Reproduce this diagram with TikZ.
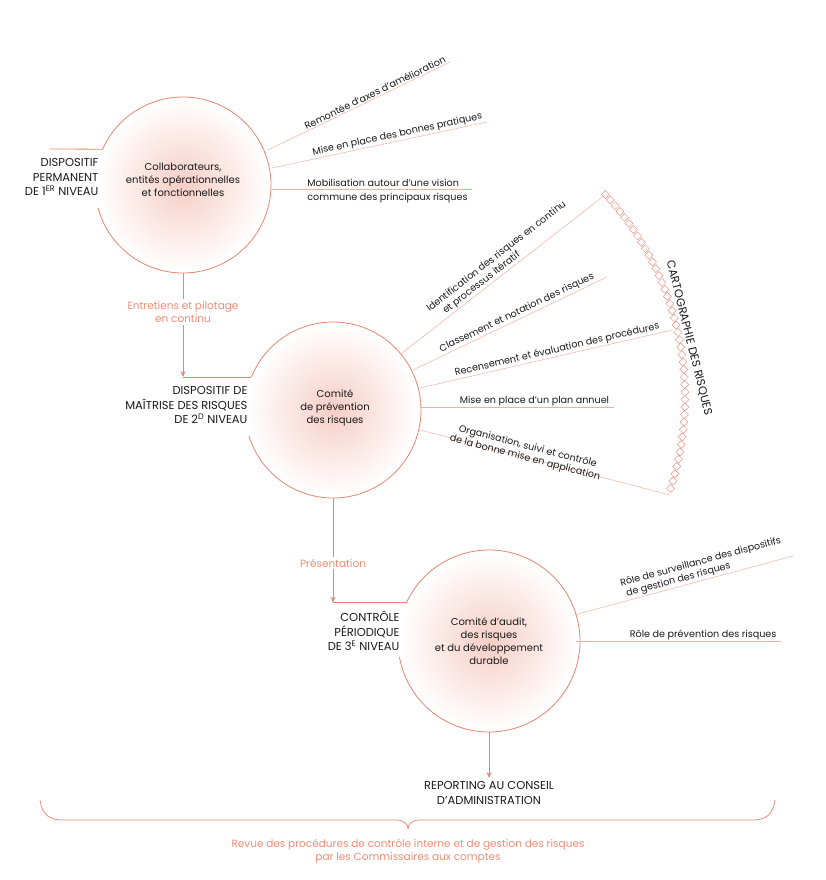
\documentclass[tikz,border=0pt]{standalone}
\usepackage{fontspec}
\setmainfont{Poppins}
\usetikzlibrary{arrows.meta,calc}
\definecolor{sal}{HTML}{E8836F}
\definecolor{sallab}{HTML}{EE8C76}
\definecolor{sallt}{HTML}{F2B0A2}
\definecolor{txt}{HTML}{1A1A1A}
\begin{document}
\begin{tikzpicture}[x=1pt,y=-1pt,
  ring/.style={draw=sal,line width=0.8pt},
  conn/.style={draw=sal,line width=0.8pt},
  arr/.style={conn,-{Stealth[length=6pt,width=5pt]}},
  spoke/.style={draw=sallt,line width=0.5pt},
  stxt/.style={font=\fontsize{9.6}{11.5}\selectfont,text=txt,inner sep=1.2pt},
  ctxt/.style={font=\fontsize{10}{13}\selectfont,text=txt,align=center},
  lvl/.style={font=\fontsize{11.5}{14.5}\selectfont,text=txt,align=right},
  lab/.style={font=\fontsize{10.5}{13}\selectfont,text=sallab,align=center,fill=white,inner sep=2pt},
  dia/.style={draw=sal!85,line width=0.5pt}]
\useasboundingbox (0,0) rectangle (826,880);
% centres
\coordinate (c1) at (183,185);
\coordinate (c2) at (333,410);
\coordinate (c3) at (489,641);
\coordinate (carto) at (388,397);
% shading
\shade[inner color=sal!40,outer color=white] (c1) circle[radius=86];
\shade[inner color=sal!40,outer color=white] (c2) circle[radius=86];
\shade[inner color=sal!40,outer color=white] (c3) circle[radius=89];
% circle 1
\draw[ring] (c1) ++(-156:88) coordinate (c1s) arc[start angle=-156,end angle=165,radius=88];
\coordinate (c1b) at ($(c1)+(0,88)$);
\coordinate (l1) at (50,149);
\draw[conn] (l1) -- (c1s);
% circle 2
\draw[ring] (c2) ++(-158:88) coordinate (c2s) arc[start angle=-158,end angle=163,radius=88];
\coordinate (c2b) at ($(c2)+(0,88)$);
% circle 3
\draw[ring] (c3) ++(-155:91) coordinate (c3s) arc[start angle=-155,end angle=170,radius=91];
\coordinate (c3b) at ($(c3)+(0,91)$);
% arrows between levels
\coordinate (a1) at (c1b |- c2s);
\draw[arr] (c1b) -- (a1);
\draw[conn] (a1) -- (c2s);
\node[lab] (e1) at (183,312) {Entretiens et pilotage\\en continu};
\coordinate (a2) at (c2b |- c3s);
\draw[arr] (c2b) -- (a2);
\draw[conn] (a2) -- (c3s);
\node[lab] (e2) at (333,563) {Présentation};
\coordinate (a3) at (489,778);
\draw[arr] (c3b) -- (a3);
% centre texts
\node[ctxt] (t1) at (183,180) {Collaborateurs,\\entités opérationnelles\\et fonctionnelles};
\node[ctxt] (t2) at (335,408) {Comité\\de prévention\\des risques};
\node[ctxt] (t3) at (489,641) {Comité d’audit,\\des risques\\et du développement\\durable};
% level labels
\node[lvl,anchor=east] (n1) at (102,177) {DISPOSITIF\\PERMANENT\\DE 1\textsuperscript{ER} NIVEAU};
\node[lvl,anchor=east] (n2) at (251,405) {DISPOSITIF DE\\MAÎTRISE DES RISQUES\\DE 2\textsuperscript{D} NIVEAU};
\node[lvl,anchor=east] (n3) at (403,631) {CONTRÔLE\\PÉRIODIQUE\\DE 3\textsuperscript{E} NIVEAU};
\node[lvl,align=center] (rep) at (489,793) {REPORTING AU CONSEIL\\D’ADMINISTRATION};
% spokes circle 1
\coordinate (p1a) at (268,150); \coordinate (p1b) at (450,62);
\draw[spoke] (p1a) -- (p1b) node[stxt,pos=0.6,above,sloped] {Remontée d’axes d’amélioration};
\coordinate (p2a) at (272,168); \coordinate (p2b) at (487,122);
\draw[spoke] (p2a) -- (p2b) node[stxt,pos=0.59,above,sloped] {Mise en place des bonnes pratiques};
\coordinate (p3a) at (272,189); \coordinate (p3b) at (472,189);
\draw[spoke] (p3a) -- (p3b);
\node[stxt,anchor=west,align=left,font=\fontsize{9.6}{13.5}\selectfont] (m3) at (306,191) {Mobilisation autour d’une vision\\commune des principaux risques};
% spokes circle 2
\coordinate (q1a) at (402,353); \coordinate (q1b) at (605,195);
\draw[spoke] (q1a) -- (q1b) node[stxt,pos=0.52,above,sloped,align=left] {Identification des risques en continu\\\hspace*{1.2em}et processus itératif};
\coordinate (q2a) at (413,370); \coordinate (q2b) at (607,277);
\draw[spoke] (q2a) -- (q2b) node[stxt,pos=0.55,above,sloped] {Classement et notation des risques};
\coordinate (q3a) at (420,388); \coordinate (q3b) at (672,330);
\draw[spoke] (q3a) -- (q3b) node[stxt,pos=0.55,above,sloped] {Recensement et évaluation des procédures};
\coordinate (q4a) at (420,407); \coordinate (q4b) at (614,407);
\draw[spoke] (q4a) -- (q4b) node[stxt,pos=0.59,above] {Mise en place d’un plan annuel};
\coordinate (q5a) at (420,430); \coordinate (q5b) at (670,495);
\draw[spoke] (q5a) -- (q5b) node[stxt,pos=0.42,sloped,above,align=center,yshift=-7pt] {Organisation, suivi et contrôle\\de la bonne mise en application};
% spokes circle 3
\coordinate (r1a) at (574,615); \coordinate (r1b) at (793,556);
\draw[spoke] (r1a) -- (r1b) node[stxt,pos=0.6,above,sloped,align=left] {Rôle de surveillance des dispositifs\\\hspace*{0.3em}de gestion des risques};
\coordinate (r2a) at (576,641); \coordinate (r2b) at (781,641);
\draw[spoke] (r2a) -- (r2b) node[stxt,pos=0.62,above] {Rôle de prévention des risques};
% cartography diamonds
\foreach \t in {43,41.55,...,-18.3}{
  \draw[dia] ($(carto)+(-\t:297)$) +(0,-4) -- +(4,0) -- +(0,4) -- +(-4,0) -- cycle;
}
\node[font=\fontsize{11.5}{13}\selectfont,text=txt,rotate=-76] (cart) at (689,338) {CARTOGRAPHIE DES RISQUES};
% brace
\coordinate (bl) at (40,800); \coordinate (br) at (775,800); \coordinate (bt) at (408,829);
\draw[conn,line width=0.7pt] (bl) .. controls (42,815) and (50,820) .. (62,820) -- (396,820)
  .. controls (404,820) and (408,824) .. (bt) .. controls (408,824) and (412,820) .. (420,820)
  -- (753,820) .. controls (765,820) and (773,815) .. (br);
\node[lab,fill=none] (rev) at (408,851) {Revue des procédures de contrôle interne et de gestion des risques\\par les Commissaires aux comptes};
\end{tikzpicture}
\end{document}
